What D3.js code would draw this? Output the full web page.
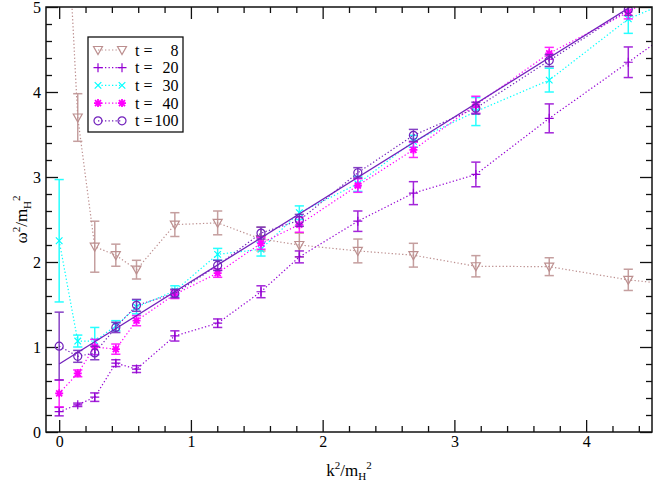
<!DOCTYPE html>
<html>
<head>
<meta charset="utf-8">
<script src="https://cdn.jsdelivr.net/npm/d3@7"></script>
<style>
  body { margin: 0; background: #fff; }
  svg text { font-family: 'Liberation Serif', 'Times New Roman', Times, 'DejaVu Serif', serif; }
</style>
</head>
<body>
<div id="chart"></div>
<script>

// chart size and plot box
const width = 654, height = 482;
const margin = {left: 46, right: 2, top: 7, bottom: 50};
const serifFont = "'Liberation Serif', 'Times New Roman', Times, 'DejaVu Serif', serif";

// momenta k^2/m_H^2 (last one sits past the right edge)
const kx = [0, 0.141, 0.27, 0.43, 0.587, 0.878, 1.203, 1.532, 1.823, 2.267, 2.689, 3.163, 3.72, 4.32, 4.98];

// omega^2/m_H^2 and error per time slice
const t8     = [7.9, 3.70, 2.18, 2.08, 1.91, 2.44, 2.46, 2.27, 2.20, 2.13, 2.08, 1.95, 1.945, 1.79, 1.68];
const t8err  = [0.4, 0.28, 0.30, 0.13, 0.11, 0.14, 0.14, 0.14, 0.14, 0.14, 0.14, 0.125, 0.105, 0.125, 0.12];
const t20    = [0.24, 0.32, 0.41, 0.81, 0.74, 1.13, 1.28, 1.65, 2.06, 2.48, 2.81, 3.03, 3.69, 4.35, 5.08];
const t20err = [0.05, 0.02, 0.05, 0.04, 0.04, 0.06, 0.05, 0.07, 0.07, 0.12, 0.135, 0.145, 0.17, 0.18, 0.2];
const t30    = [2.25, 1.07, 1.07, 1.25, 1.47, 1.66, 2.09, 2.15, 2.58, 2.92, 3.42, 3.77, 4.14, 4.86, 5.29];
const t30err = [0.72, 0.07, 0.16, 0.06, 0.08, 0.06, 0.07, 0.08, 0.08, 0.09, 0.07, 0.165, 0.14, 0.17, 0.2];
const t40    = [0.455, 0.69, 1.0, 0.975, 1.31, 1.62, 1.87, 2.22, 2.44, 2.90, 3.32, 3.85, 4.455, 4.94, 5.6];
const t40err = [0.16, 0.04, 0.09, 0.06, 0.06, 0.05, 0.05, 0.07, 0.09, 0.08, 0.09, 0.1, 0.07, 0.08, 0.1];
const t100    = [1.01, 0.89, 0.93, 1.23, 1.49, 1.63, 1.96, 2.34, 2.49, 3.05, 3.49, 3.81, 4.37, 4.97, 5.6];
const t100err = [0.40, 0.07, 0.08, 0.06, 0.07, 0.05, 0.06, 0.07, 0.07, 0.06, 0.07, 0.07, 0.07, 0.07, 0.08];

// straight fit to t=100
const fitK = [0, 4.5];
const fitW = [0.80, 5.16];

// legend labels
const tLabels = ["8", "20", "30", "40", "100"];

const xTicks = [0, 1, 2, 3, 4];
const yTicks = [0, 1, 2, 3, 4, 5];

const series = [
  {vals: t8,   err: t8err,   color: "#bc8f8f", sym: "tri"},
  {vals: t20,  err: t20err,  color: "#9400d3", sym: "plus"},
  {vals: t30,  err: t30err,  color: "#00ffff", sym: "cross"},
  {vals: t40,  err: t40err,  color: "#ff00ff", sym: "star"},
  {vals: t100, err: t100err, color: "#7221bc", sym: "circle"}
];

const svg = d3
.select("#chart")
.append("svg")
.attr("width", width)
.attr("height", height)
.attr("viewBox", [0, 0, width, height])
.attr("font-family", serifFont);

let xScale = d3.scaleLinear()
               .domain([-0.1, 4.5])
               .range([margin.left, width - margin.right]);

let yScale = d3.scaleLinear()
               .domain([0, 5])
               .range([height - margin.bottom, margin.top]);

const x0 = margin.left, x1 = width - margin.right;
const y0 = height - margin.bottom, y1 = margin.top;

// minor tick positions (every 0.2, not on integers)
const xMinor = d3.range(0, 4.5001, 0.2).filter(v => Math.abs(v - Math.round(v)) > 1e-6);
const yMinor = d3.range(0, 5, 0.2).filter(v => Math.abs(v - Math.round(v)) > 1e-6);

// draw an axis, strip its domain line
function addAxis(axis, transform) {
  const g = svg.append("g")
      .attr("transform", transform)
      .call(axis)
      .attr("font-family", serifFont)
      .attr("font-size", "16px");
  g.select(".domain").remove();
  g.selectAll("line").attr("stroke", "#111").attr("stroke-width", 1.3);
  g.selectAll("text").attr("fill", "#000");
  return g;
}

// bottom axis with labels
addAxis(d3.axisBottom(xScale).tickValues(xTicks).tickSize(-12).tickPadding(4).tickFormat(d3.format("d")),
        `translate(0,${y0})`);
addAxis(d3.axisBottom(xScale).tickValues(xMinor).tickSize(-6).tickFormat(""), `translate(0,${y0})`);
// top axis
addAxis(d3.axisTop(xScale).tickValues(xTicks).tickSize(-12).tickFormat(""), `translate(0,${y1})`);
addAxis(d3.axisTop(xScale).tickValues(xMinor).tickSize(-6).tickFormat(""), `translate(0,${y1})`);
// left axis with labels
addAxis(d3.axisLeft(yScale).tickValues(yTicks).tickSize(-12).tickPadding(5).tickFormat(d3.format("d")),
        `translate(${x0},0)`);
addAxis(d3.axisLeft(yScale).tickValues(yMinor).tickSize(-6).tickFormat(""), `translate(${x0},0)`);
// right axis
addAxis(d3.axisRight(yScale).tickValues(yTicks).tickSize(-12).tickFormat(""), `translate(${x1},0)`);
addAxis(d3.axisRight(yScale).tickValues(yMinor).tickSize(-6).tickFormat(""), `translate(${x1},0)`);

// clip region
svg.append("clipPath").attr("id", "plotclip")
   .append("rect")
   .attr("x", x0).attr("y", y1)
   .attr("width", x1 - x0).attr("height", y0 - y1);

const plot = svg.append("g").attr("clip-path", "url(#plotclip)");

// symbol shapes
const symPath = {
  tri:   "M-4.5,-3.5H4.5L0,4.5Z",
  plus:  "M-4.5,0H4.5M0,-4.5V4.5",
  cross: "M-3.3,-3.3L3.3,3.3M-3.3,3.3L3.3,-3.3",
  star:  "M-4,0H4M0,-4V4M-3,-3L3,3M-3,3L3,-3"
};

function drawSymbol(g, sym, color) {
  if (sym === "circle") {
    g.append("circle").attr("r", 4)
     .attr("fill", "none").attr("stroke", color).attr("stroke-width", 1.2);
  } else {
    g.append("path").attr("d", symPath[sym])
     .attr("fill", "none").attr("stroke", color)
     .attr("stroke-width", sym === "star" ? 1.8 : 1.2);
  }
}

const line = d3.line()
               .x(d => xScale(d[0]))
               .y(d => yScale(d[1]));

series.forEach(s => {
  const pts = kx.map((k, i) => [k, s.vals[i], s.err[i]]);

  // dotted connecting line
  plot.append("path")
      .datum(pts)
      .attr("d", line)
      .attr("fill", "none")
      .attr("stroke", s.color)
      .attr("stroke-width", 1.2)
      .attr("stroke-dasharray", "1.3,2.2");

  // error bars
  const eb = plot.append("g")
      .attr("stroke", s.color)
      .attr("stroke-width", 1.5)
      .attr("opacity", 0.85);
  eb.selectAll(".stem").data(pts).enter().append("line")
    .attr("x1", d => xScale(d[0])).attr("x2", d => xScale(d[0]))
    .attr("y1", d => yScale(d[1] - d[2])).attr("y2", d => yScale(d[1] + d[2]));
  eb.selectAll(".capTop").data(pts).enter().append("line")
    .attr("x1", d => xScale(d[0]) - 4.6).attr("x2", d => xScale(d[0]) + 4.6)
    .attr("y1", d => yScale(d[1] + d[2])).attr("y2", d => yScale(d[1] + d[2]));
  eb.selectAll(".capBot").data(pts).enter().append("line")
    .attr("x1", d => xScale(d[0]) - 4.6).attr("x2", d => xScale(d[0]) + 4.6)
    .attr("y1", d => yScale(d[1] - d[2])).attr("y2", d => yScale(d[1] - d[2]));

  // markers
  plot.selectAll(null).data(pts).enter().append("g")
      .attr("transform", d => `translate(${xScale(d[0])},${yScale(d[1])})`)
      .each(function() { drawSymbol(d3.select(this), s.sym, s.color); });
});

// fit line
plot.append("path")
    .datum(fitK.map((k, i) => [k, fitW[i]]))
    .attr("d", line)
    .attr("fill", "none")
    .attr("stroke", "#7221bc")
    .attr("stroke-width", 1.3);

// frame
svg.append("rect")
   .attr("x", x0).attr("y", y1)
   .attr("width", x1 - x0).attr("height", y0 - y1)
   .attr("fill", "none").attr("stroke", "#111").attr("stroke-width", 1.5);

// legend
const legend = svg.append("g");
legend.append("rect")
      .attr("x", 88).attr("y", 37).attr("width", 95).attr("height", 95)
      .attr("fill", "#fff").attr("stroke", "#111").attr("stroke-width", 1.3);

series.forEach((s, i) => {
  const ry = 50 + i * 17.7;
  legend.append("line")
        .attr("x1", 98).attr("x2", 122).attr("y1", ry).attr("y2", ry)
        .attr("stroke", s.color).attr("stroke-width", 1.2)
        .attr("stroke-dasharray", "1.3,2.2");
  drawSymbol(legend.append("g").attr("transform", `translate(98,${ry})`), s.sym, s.color);
  drawSymbol(legend.append("g").attr("transform", `translate(122,${ry})`), s.sym, s.color);
  legend.append("text").attr("x", 135).attr("y", ry + 5.5)
        .attr("font-size", "16px").text("t =");
  legend.append("text").attr("x", 178.5).attr("y", ry + 5.5)
        .attr("font-size", "16px").attr("text-anchor", "end").text(tLabels[i]);
});

// axis titles
const xt = svg.append("text")
   .attr("x", (x0 + x1) / 2).attr("y", 476)
   .attr("text-anchor", "middle").attr("font-size", "17px");
xt.append("tspan").text("k");
xt.append("tspan").attr("dy", -7).attr("font-size", "11px").text("2");
xt.append("tspan").attr("dy", 7).text("/m");
xt.append("tspan").attr("dy", 4).attr("font-size", "11px").text("H");
xt.append("tspan").attr("dy", -11).attr("font-size", "11px").text("2");

const yt = svg.append("text")
   .attr("transform", `translate(27,${(y0 + y1) / 2}) rotate(-90)`)
   .attr("text-anchor", "middle").attr("font-size", "17px");
yt.append("tspan").text("ω");
yt.append("tspan").attr("dy", -7).attr("font-size", "11px").text("2");
yt.append("tspan").attr("dy", 7).text("/m");
yt.append("tspan").attr("dy", 4).attr("font-size", "11px").text("H");
yt.append("tspan").attr("dy", -11).attr("font-size", "11px").text("2");

</script>
</body>
</html>
